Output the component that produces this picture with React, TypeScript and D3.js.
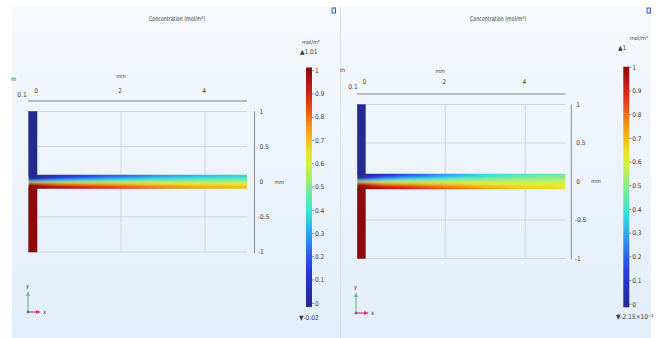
import React from 'react';
import * as d3 from 'd3';

// stations along the outlet channel (mm) where the concentration is sampled
const xStations = [-0.2, 0, 0.2, 0.5, 1, 2, 3, 4, 5];

// concentration rows across the channel width, top (y=+0.1 mm) to bottom (y=-0.1 mm)
const leftRows = [
  [0.0, 0.02, 0.04, 0.07, 0.12, 0.2, 0.27, 0.32, 0.36],
  [0.0, 0.04, 0.08, 0.13, 0.19, 0.28, 0.35, 0.39, 0.42],
  [0.03, 0.12, 0.2, 0.26, 0.32, 0.4, 0.44, 0.46, 0.48],
  [0.5, 0.5, 0.5, 0.5, 0.52, 0.53, 0.54, 0.54, 0.55],
  [0.97, 0.9, 0.82, 0.77, 0.73, 0.68, 0.64, 0.62, 0.61],
  [1.0, 0.98, 0.95, 0.92, 0.88, 0.8, 0.74, 0.7, 0.67],
  [1.0, 0.99, 0.98, 0.96, 0.93, 0.86, 0.79, 0.74, 0.71],
];

const rightRows = [
  [0.0, 0.02, 0.05, 0.1, 0.17, 0.28, 0.37, 0.43, 0.47],
  [0.0, 0.05, 0.1, 0.17, 0.25, 0.35, 0.42, 0.47, 0.5],
  [0.03, 0.15, 0.25, 0.32, 0.38, 0.45, 0.5, 0.52, 0.54],
  [0.5, 0.52, 0.53, 0.54, 0.55, 0.56, 0.56, 0.56, 0.57],
  [0.97, 0.88, 0.8, 0.75, 0.71, 0.66, 0.62, 0.6, 0.6],
  [1.0, 0.97, 0.93, 0.89, 0.85, 0.76, 0.69, 0.65, 0.63],
  [1.0, 0.99, 0.97, 0.94, 0.9, 0.82, 0.74, 0.68, 0.65],
];

// inlet arms: top inlet (c=0), bottom inlet (c=1)
const inletValues = [0.0, 1.0];

const xTicks = [0, 2, 4];
const yTicks = [1, 0.5, 0, -0.5, -1];
const cbTicks = [0, 0.1, 0.2, 0.3, 0.4, 0.5, 0.6, 0.7, 0.8, 0.9, 1];

const colorStops = [0, 0.125, 0.25, 0.375, 0.5, 0.625, 0.75, 0.875, 1];
const colorRange = ['#252b8e', '#2634d6', '#2f7cf0', '#2ee0e6', '#84ec88', '#eef02a', '#f39a1c', '#e42a18', '#880c0c'];
const color = d3.scaleLinear<string>().domain(colorStops).range(colorRange).interpolate(d3.interpolateRgb).clamp(true);

const FONT = '"DejaVu Sans Condensed", "Liberation Sans Narrow", "Liberation Sans", sans-serif';
const TXT = '#3a3a3a';

type Cfg = {
  id: string;
  px: [number, number];
  xRange: [number, number];
  yRange: [number, number];
  topAxisY: number;
  topAxisFrom: number;
  topLabelY: number;
  mmTop: [number, number];
  tenth: [number, number];
  mLabel: [number, number];
  rightAxisX: number;
  cbX: number;
  cbTop: number;
  cbBottom: number;
  cbLabelRange: [number, number];
  cbDomain: [number, number];
  unitPos: [number, number];
  maxPos: [number, number];
  minPos: [number, number];
  maxLabel: string;
  minLabel: string;
  titleX: number;
  triad: [number, number];
  icon: [number, number];
};

const Panel = ({ cfg, rows }: { cfg: Cfg; rows: number[][] }) => {
  const x = d3.scaleLinear().domain([0, 5]).range(cfg.xRange);
  const y = d3.scaleLinear().domain([-1, 1]).range(cfg.yRange);
  const cbLab = d3.scaleLinear().domain([0, 1]).range(cfg.cbLabelRange);
  const xl = x(-0.2);
  const xr = x(5);
  const chTop = y(0.1);
  const chBot = y(-0.1);
  const rowH = (chBot - chTop) / rows.length;
  const cbW = 6;

  return (
    <g>
      <defs>
        {rows.map((r, i) => (
          <linearGradient key={i} id={`${cfg.id}-row${i}`} gradientUnits="userSpaceOnUse" x1={xl} x2={xr} y1={0} y2={0}>
            {r.map((v, j) => (
              <stop key={j} offset={(x(xStations[j]) - xl) / (xr - xl)} stopColor={color(v)} />
            ))}
          </linearGradient>
        ))}
        <linearGradient id={`${cfg.id}-cb`} x1="0" x2="0" y1="1" y2="0">
          {d3.range(0, 21).map(k => {
            const t = k / 20;
            const v = cfg.cbDomain[0] + t * (cfg.cbDomain[1] - cfg.cbDomain[0]);
            return <stop key={k} offset={t} stopColor={color(v)} />;
          })}
        </linearGradient>
        <filter id={`${cfg.id}-blur`} x="-5%" y="-50%" width="110%" height="200%">
          <feGaussianBlur stdDeviation="0.7 0.8" />
        </filter>
        <clipPath id={`${cfg.id}-clip`}>
          <rect x={xl} y={chTop} width={xr - xl} height={chBot - chTop} />
        </clipPath>
      </defs>

      <text x={cfg.titleX} y={21} textAnchor="middle" fontSize={6.5} fill={TXT} fontFamily={FONT} textLength={56} lengthAdjust="spacingAndGlyphs">
        Concentration (mol/m³)
      </text>

      {/* top axis */}
      <text x={cfg.mLabel[0]} y={cfg.mLabel[1]} fontSize={6} fill={TXT} fontFamily={FONT}>m</text>
      <text x={(x(xTicks[0]) + x(xTicks[xTicks.length - 1])) / 2 + cfg.mmTop[0]} y={cfg.mmTop[1]} fontSize={5.5} fill={TXT} textAnchor="middle" fontFamily={FONT}>mm</text>
      <text x={cfg.tenth[0]} y={cfg.tenth[1]} fontSize={6.5} fill={TXT} textAnchor="middle" fontFamily={FONT}>0.1</text>
      {xTicks.map(t => (
        <text key={t} x={x(t) - 1} y={cfg.topLabelY} fontSize={6.5} fill={TXT} textAnchor="middle" fontFamily={FONT}>{t}</text>
      ))}
      <line x1={cfg.topAxisFrom} x2={xr} y1={cfg.topAxisY} y2={cfg.topAxisY} stroke="#808080" strokeWidth={1} />

      {/* grid */}
      {yTicks.filter(t => Math.abs(t) > 0.01).map(t => (
        <line key={t} x1={xl} x2={xr} y1={y(t)} y2={y(t)} stroke="#c9ced6" strokeWidth={0.8} />
      ))}
      {xTicks.map(t => (
        <line key={t} x1={x(t)} x2={x(t)} y1={y(1)} y2={y(-1)} stroke="#c9ced6" strokeWidth={0.8} />
      ))}

      {/* right axis */}
      <line x1={cfg.rightAxisX} x2={cfg.rightAxisX} y1={y(1)} y2={y(-1) + 1} stroke="#8a8a8a" strokeWidth={1} />
      {yTicks.map(t => (
        <text key={t} x={cfg.rightAxisX + (t < 0 ? 3.5 : 5)} y={y(t)} dy="0.35em" fontSize={6.5} fill={TXT} fontFamily={FONT}>{String(t)}</text>
      ))}
      <text x={cfg.rightAxisX + 20} y={y(0)} dy="0.35em" fontSize={5.5} fill={TXT} fontFamily={FONT}>mm</text>

      {/* inlet arms */}
      <rect x={xl} y={y(1)} width={x(0) - xl} height={chTop - y(1) + 0.5} fill={color(inletValues[0])} stroke="#1e236f" strokeWidth={0.4} />
      <rect x={xl} y={chBot - 0.5} width={x(0) - xl} height={y(-1) - chBot + 0.5} fill={color(inletValues[1])} stroke="#5a0606" strokeWidth={0.4} />

      {/* outlet channel */}
      <g clipPath={`url(#${cfg.id}-clip)`}>
        <g filter={`url(#${cfg.id}-blur)`}>
          {rows.map((r, i) => (
            <rect key={i} x={xl - 3} y={chTop + i * rowH - (i === 0 ? 2 : 0)} width={xr - xl + 6} height={rowH + 0.3 + (i === 0 || i === rows.length - 1 ? 2 : 0)} fill={`url(#${cfg.id}-row${i})`} />
          ))}
        </g>
      </g>

      {/* color legend */}
      <text x={cfg.unitPos[0]} y={cfg.unitPos[1]} fontSize={5.5} fill={TXT} fontFamily={FONT}>mol/m³</text>
      <text x={cfg.maxPos[0]} y={cfg.maxPos[1]} fontSize={6.5} fill={TXT} fontFamily={FONT}>▲{cfg.maxLabel}</text>
      <rect x={cfg.cbX} y={cfg.cbTop} width={cbW} height={cfg.cbBottom - cfg.cbTop} fill={`url(#${cfg.id}-cb)`} />
      {cbTicks.map(t => (
        <g key={t}>
          <line x1={cfg.cbX + cbW} x2={cfg.cbX + cbW + 2} y1={cbLab(t)} y2={cbLab(t)} stroke="#555" strokeWidth={0.7} />
          <text x={cfg.cbX + cbW + 3} y={cbLab(t)} dy="0.35em" fontSize={6.5} fill={TXT} fontFamily={FONT}>{String(t)}</text>
        </g>
      ))}
      <text x={cfg.minPos[0]} y={cfg.minPos[1]} fontSize={6.5} fill={TXT} fontFamily={FONT}>▼{cfg.minLabel}</text>

      {/* axis triad */}
      <g transform={`translate(${cfg.triad[0]},${cfg.triad[1]})`}>
        <line x1={0} x2={0} y1={0} y2={-17} stroke="#6cc07a" strokeWidth={1.2} />
        <path d="M-2,-16 L0,-21 L2,-16 Z" fill="#6cc07a" />
        <line x1={0} x2={9} y1={0} y2={0} stroke="#e2336f" strokeWidth={1.2} />
        <path d="M8,-2 L13,0 L8,2 Z" fill="#e2336f" />
        <rect x={-1.2} y={-1.2} width={2.4} height={2.4} fill="#4a6fb0" />
        <text x={-2} y={-24} fontSize={6} fill={TXT} fontFamily={FONT}>y</text>
        <text x={15} y={2} fontSize={6} fill={TXT} fontFamily={FONT}>x</text>
      </g>

      {/* window icon */}
      <rect x={cfg.icon[0]} y={cfg.icon[1]} width={3.5} height={5} fill="#dfe8f4" stroke="#3d68a8" strokeWidth={1} />
    </g>
  );
};

const leftCfg: Cfg = {
  id: 'l',
  px: [12, 340],
  xRange: [37, 247],
  yRange: [252, 111.5],
  topAxisY: 101,
  topAxisFrom: 28,
  topLabelY: 93,
  mmTop: [0, 78],
  tenth: [22, 97],
  mLabel: [11, 81],
  rightAxisX: 254.5,
  cbX: 306,
  cbTop: 67.5,
  cbBottom: 307,
  cbLabelRange: [303.3, 70.7],
  cbDomain: [-0.02, 1.01],
  unitPos: [302, 44],
  maxPos: [300, 54],
  minPos: [299, 320],
  maxLabel: '1.01',
  minLabel: '-0.02',
  titleX: 177,
  triad: [28, 312],
  icon: [332, 8],
};

const rightCfg: Cfg = {
  id: 'r',
  px: [341, 651],
  xRange: [365.3, 565.3],
  yRange: [258.5, 104.5],
  topAxisY: 94,
  topAxisFrom: 357,
  topLabelY: 84,
  mmTop: [-5, 73],
  tenth: [353, 89],
  mLabel: [340, 72],
  rightAxisX: 571.3,
  cbX: 623.3,
  cbTop: 66.7,
  cbBottom: 307.3,
  cbLabelRange: [304.3, 67.3],
  cbDomain: [-0.00215, 1],
  unitPos: [630, 40],
  maxPos: [618, 50],
  minPos: [616, 319],
  maxLabel: '1',
  minLabel: '-2.15×10⁻³',
  titleX: 498,
  triad: [356, 313],
  icon: [647, 8],
};

const panels = [
  { cfg: leftCfg, rows: leftRows },
  { cfg: rightCfg, rows: rightRows },
];

export default function App() {
  return (
    <div style={{ position: 'absolute', left: 0, top: 0 }}>
      <svg width={668} height={338} style={{ display: 'block', background: '#ffffff' }}>
        <defs>
          <linearGradient id="bg" x1="0" x2="0" y1="0" y2="1">
            <stop offset="0" stopColor="#f6f9fd" />
            <stop offset="0.5" stopColor="#ecf3fb" />
            <stop offset="1" stopColor="#e2eefb" />
          </linearGradient>
        </defs>
        {panels.map(p => (
          <rect key={p.cfg.id} x={p.cfg.px[0]} y={7} width={p.cfg.px[1] - p.cfg.px[0]} height={331} fill="url(#bg)" />
        ))}
        <line x1={340.5} x2={340.5} y1={7} y2={338} stroke="#d6dee9" strokeWidth={1} />
        {panels.map(p => (
          <Panel key={p.cfg.id} cfg={p.cfg} rows={p.rows} />
        ))}
      </svg>
    </div>
  );
}
